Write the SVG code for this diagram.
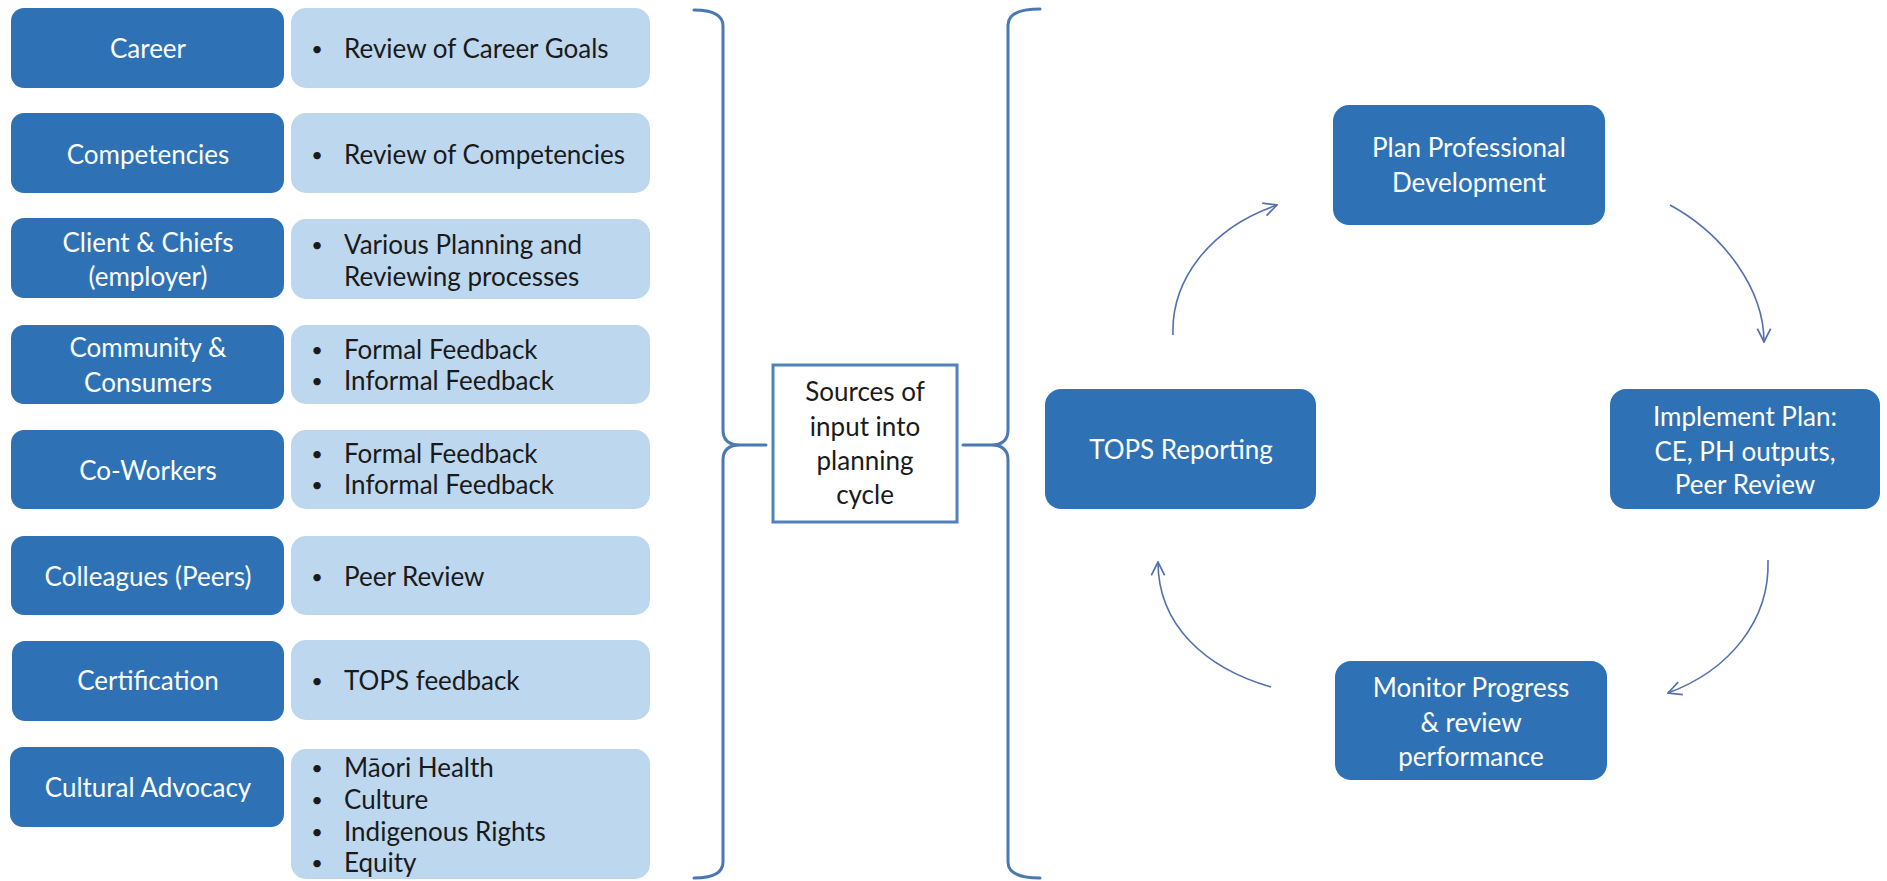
<svg xmlns="http://www.w3.org/2000/svg" width="1887" height="881" viewBox="0 0 1887 881">
<defs>
<style>
.dk{fill:#2E72B5}
.lt{fill:#BDD7EE}
.wt{font-family:Lato,"Open Sans","Liberation Sans",sans-serif;font-size:26px;fill:#ffffff;text-anchor:middle}
.bt{font-family:Lato,"Open Sans","Liberation Sans",sans-serif;font-size:26px;fill:#1a1a1a}
.bu{font-family:Lato,"Open Sans","Liberation Sans",sans-serif;font-size:20px;fill:#1a1a1a;text-anchor:middle}
.ct{font-family:Lato,"Open Sans","Liberation Sans",sans-serif;font-size:26px;fill:#1a1a1a;text-anchor:middle}
.br{fill:none;stroke:#4A78B4;stroke-width:3;stroke-linecap:round;stroke-linejoin:round}
.ar{fill:none;stroke:#5470AC;stroke-width:1.6;marker-end:url(#ah)}
</style>
<marker id="ah" viewBox="0 0 12 12" refX="11" refY="6" markerWidth="16" markerHeight="16" markerUnits="userSpaceOnUse" orient="auto">
<path d="M1,1 L11,6 L1,11" fill="none" stroke="#5470AC" stroke-width="1.3"/>
</marker>
</defs>
<rect width="1887" height="881" fill="#ffffff"/>

<g id="row-career">
<rect class="dk" x="11" y="8" width="273" height="80" rx="13"/>
<rect class="lt" x="291" y="8" width="359" height="80" rx="15"/>
<text class="wt" x="148" y="58">Career</text>
<text class="bu" x="317" y="56">•</text>
<text class="bt" x="344" y="58">Review of Career Goals</text>
</g>

<g id="row-competencies">
<rect class="dk" x="11" y="113" width="273" height="80" rx="13"/>
<rect class="lt" x="291" y="113" width="359" height="80" rx="15"/>
<text class="wt" x="148" y="164">Competencies</text>
<text class="bu" x="317" y="162">•</text>
<text class="bt" x="344" y="164">Review of Competencies</text>
</g>

<g id="row-client">
<rect class="dk" x="11" y="218" width="273" height="80" rx="13"/>
<rect class="lt" x="291" y="219" width="359" height="80" rx="15"/>
<text class="wt" x="148" y="252">Client &amp; Chiefs</text>
<text class="wt" x="148" y="286">(employer)</text>
<text class="bu" x="317" y="252">•</text>
<text class="bt" x="344" y="254">Various Planning and</text>
<text class="bt" x="344" y="286">Reviewing processes</text>
</g>

<g id="row-community">
<rect class="dk" x="11" y="325" width="273" height="79" rx="13"/>
<rect class="lt" x="291" y="325" width="359" height="79" rx="15"/>
<text class="wt" x="148" y="357">Community &amp;</text>
<text class="wt" x="148" y="392">Consumers</text>
<text class="bu" x="317" y="357">•</text>
<text class="bt" x="344" y="359">Formal Feedback</text>
<text class="bu" x="317" y="388">•</text>
<text class="bt" x="344" y="390">Informal Feedback</text>
</g>

<g id="row-coworkers">
<rect class="dk" x="11" y="430" width="273" height="79" rx="13"/>
<rect class="lt" x="291" y="430" width="359" height="79" rx="15"/>
<text class="wt" x="148" y="480">Co-Workers</text>
<text class="bu" x="317" y="461">•</text>
<text class="bt" x="344" y="463">Formal Feedback</text>
<text class="bu" x="317" y="492">•</text>
<text class="bt" x="344" y="494">Informal Feedback</text>
</g>

<g id="row-colleagues">
<rect class="dk" x="11" y="536" width="273" height="79" rx="13"/>
<rect class="lt" x="291" y="536" width="359" height="79" rx="15"/>
<text class="wt" x="148" y="586">Colleagues (Peers)</text>
<text class="bu" x="317" y="584">•</text>
<text class="bt" x="344" y="586">Peer Review</text>
</g>

<g id="row-certification">
<rect class="dk" x="12" y="641" width="272" height="80" rx="13"/>
<rect class="lt" x="291" y="640" width="359" height="80" rx="15"/>
<text class="wt" x="148" y="690">Certification</text>
<text class="bu" x="317" y="688">•</text>
<text class="bt" x="344" y="690">TOPS feedback</text>
</g>

<g id="row-cultural">
<rect class="dk" x="10" y="747" width="274" height="80" rx="13"/>
<rect class="lt" x="291" y="749" width="359" height="130" rx="15"/>
<text class="wt" x="148" y="797">Cultural Advocacy</text>
<text class="bu" x="317" y="775">•</text>
<text class="bt" x="344" y="777">Māori Health</text>
<text class="bu" x="317" y="807">•</text>
<text class="bt" x="344" y="809">Culture</text>
<text class="bu" x="317" y="839">•</text>
<text class="bt" x="344" y="841">Indigenous Rights</text>
<text class="bu" x="317" y="870">•</text>
<text class="bt" x="344" y="872">Equity</text>
</g>

<g id="center">
<rect x="773" y="365" width="184" height="157" fill="#ffffff" stroke="#4F81BD" stroke-width="3"/>
<text class="ct" x="865" y="401">Sources of</text>
<text class="ct" x="865" y="436">input into</text>
<text class="ct" x="865" y="470">planning</text>
<text class="ct" x="865" y="504">cycle</text>
</g>

<g id="node-plan">
<rect class="dk" x="1333" y="105" width="272" height="120" rx="16"/>
<text class="wt" x="1469" y="157">Plan Professional</text>
<text class="wt" x="1469" y="192">Development</text>
</g>

<g id="node-tops">
<rect class="dk" x="1045" y="389" width="271" height="120" rx="16"/>
<text class="wt" x="1181" y="459">TOPS Reporting</text>
</g>

<g id="node-implement">
<rect class="dk" x="1610" y="389" width="270" height="120" rx="16"/>
<text class="wt" x="1745" y="426">Implement Plan:</text>
<text class="wt" x="1745" y="461">CE, PH outputs,</text>
<text class="wt" x="1745" y="494">Peer Review</text>
</g>

<g id="node-monitor">
<rect class="dk" x="1335" y="661" width="272" height="119" rx="16"/>
<text class="wt" x="1471" y="697">Monitor Progress</text>
<text class="wt" x="1471" y="732">&amp; review</text>
<text class="wt" x="1471" y="766">performance</text>
</g>

<g id="connectors">
<path class="br" d="M694,10 Q723,10 723,26 L723,430 Q723,445 740,445 L766,445 M740,445 Q723,445 723,460 L723,862 Q723,878 694,878"/>
<path class="br" d="M1040,9 Q1008,9 1008,25 L1008,430 Q1008,445 991,445 L963,445 M991,445 Q1008,445 1008,460 L1008,862 Q1008,878 1040,878"/>
<path class="ar" d="M1173,335 C1171,280 1210,228 1277,205"/>
<path class="ar" d="M1670,205 C1725,235 1764,290 1764,342"/>
<path class="ar" d="M1768,560 C1770,620 1730,670 1668,693"/>
<path class="ar" d="M1271,687 C1205,668 1158,625 1158,562"/>
</g>
</svg>
